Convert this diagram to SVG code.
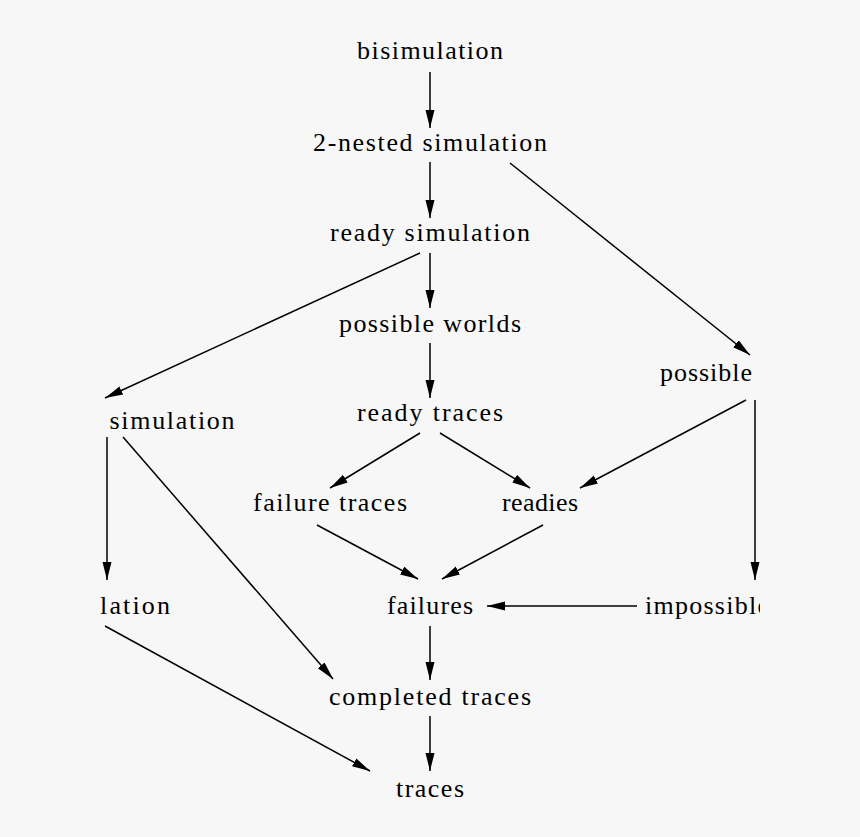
<svg xmlns="http://www.w3.org/2000/svg" width="860" height="837" viewBox="0 0 860 837">
<defs>
<marker id="ah" markerUnits="userSpaceOnUse" markerWidth="20" markerHeight="10" refX="18" refY="4.5" orient="auto">
<path d="M0,0 L18,4.5 L0,9 Z" fill="#000"/>
</marker>
<clipPath id="clipL"><rect x="97" y="0" width="300" height="837"/></clipPath>
<clipPath id="clipR"><rect x="500" y="0" width="260" height="837"/></clipPath>
</defs>
<style>
text{font-family:"Liberation Serif","DejaVu Serif",serif;font-size:26px;fill:#000;text-anchor:middle}
.e{stroke:#000;stroke-width:1.5;fill:none;marker-end:url(#ah)}
</style>
<rect width="860" height="837" fill="#f7f7f7"/>
<g id="connectors">
<path class="e" d="M430,72 L430,128"/>
<path class="e" d="M430,162 L430,218"/>
<path class="e" d="M510,163 L750,355"/>
<path class="e" d="M430,253 L430,308"/>
<path class="e" d="M420,253 L105,398"/>
<path class="e" d="M430,343 L430,398"/>
<path class="e" d="M420,433 L330,488"/>
<path class="e" d="M440,433 L530,488"/>
<path class="e" d="M746,400 L580,488"/>
<path class="e" d="M755,400 L755,580"/>
<path class="e" d="M107,437 L107,580"/>
<path class="e" d="M123,437 L333,679"/>
<path class="e" d="M317,525 L418,579"/>
<path class="e" d="M543,525 L442,579"/>
<path class="e" d="M637,606 L487,606"/>
<path class="e" d="M430,626 L430,680"/>
<path class="e" d="M105,626 L370,771"/>
<path class="e" d="M430,716 L430,771"/>
</g>
<g id="bisimulation"><text x="430" y="59" textLength="146">bisimulation</text></g>
<g id="nested"><text x="430" y="151" textLength="234">2-nested simulation</text></g>
<g id="ready-simulation"><text x="430" y="241" textLength="200">ready simulation</text></g>
<g id="possible-worlds"><text x="430" y="332" textLength="182">possible worlds</text></g>
<g id="ready-traces"><text x="430" y="421" textLength="146">ready traces</text></g>
<g id="failure-traces"><text x="330" y="511" textLength="154">failure traces</text></g>
<g id="readies"><text x="540" y="511" textLength="76">readies</text></g>
<g id="failures"><text x="430" y="614" textLength="86">failures</text></g>
<g id="completed-traces"><text x="430" y="705" textLength="202">completed traces</text></g>
<g id="traces"><text x="430" y="797" textLength="68">traces</text></g>
<g id="simulation" clip-path="url(#clipL)"><text x="172" y="429" textLength="125">simulation</text></g>
<g id="lation" clip-path="url(#clipL)"><text x="135" y="614" textLength="70">lation</text></g>
<g id="possible" clip-path="url(#clipR)"><text x="706" y="381" textLength="92">possible</text></g>
<g id="impossible" clip-path="url(#clipR)"><text x="707" y="614" textLength="124">impossible</text></g>
</svg>
